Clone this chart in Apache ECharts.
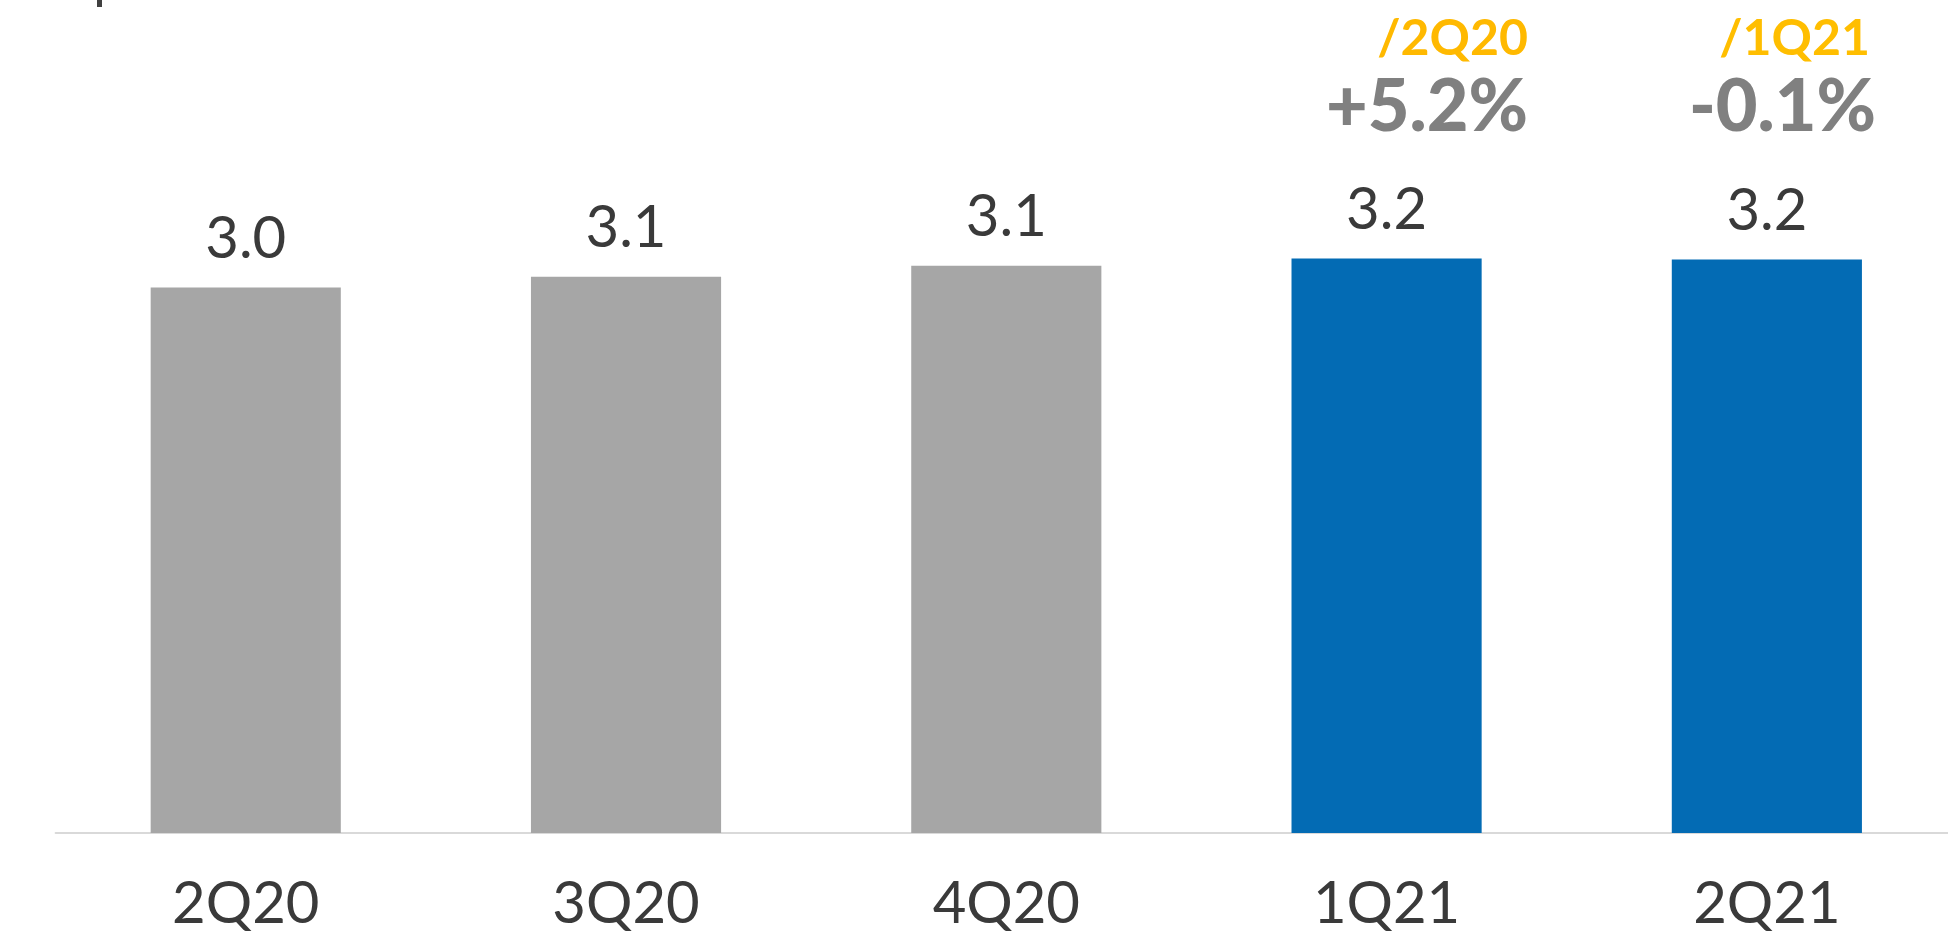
<!DOCTYPE html>
<html>
<head>
<meta charset="utf-8">
<script src="https://cdn.jsdelivr.net/npm/echarts@6/dist/echarts.min.js"></script>
<style>
html,body{margin:0;padding:0;background:#fff;overflow:hidden;width:1948px;height:933px;}
#chart{width:1957px;height:933px;}
</style>
</head>
<body>
<div id="chart"></div>
<script>
const categories = ['2Q20', '3Q20', '4Q20', '1Q21', '2Q21'];
const values = [3.00, 3.06, 3.12, 3.16, 3.155];
const valueLabels = ['3.0', '3.1', '3.1', '3.2', '3.2'];
const barColors = ['#A6A6A6', '#A6A6A6', '#A6A6A6', '#036BB4', '#036BB4'];
const compareLabels = ['/2Q20', '/1Q21'];
const changeLabels = ['+5.2%', '-0.1%'];

const chart = echarts.init(document.getElementById('chart'));
const FONT = 'Lato, "Noto Sans", sans-serif';

chart.setOption({
  animation: false,
  backgroundColor: '#ffffff',
  grid: { left: 55.6, right: 0, top: 105.8, bottom: 100, containLabel: false },
  xAxis: {
    type: 'category',
    data: categories,
    axisLine: { show: true, lineStyle: { color: '#D9D9D9', width: 2 } },
    axisTick: { show: false },
    axisLabel: { color: '#3A3A3A', fontFamily: FONT, fontSize: 58, margin: 42 }
  },
  yAxis: {
    type: 'value', min: 0, max: 4, interval: 1,
    show: false,
    splitLine: { show: false }
  },
  series: [{
    type: 'bar',
    barWidth: '50%',
    data: values.map((v, i) => ({ value: v, itemStyle: { color: barColors[i] } })),
    label: {
      show: true,
      position: 'top',
      distance: 19,
      color: '#3A3A3A',
      fontFamily: FONT,
      fontSize: 58,
      formatter: p => valueLabels[p.dataIndex]
    }
  }],
  graphic: [
    { type: 'rect', shape: { x: 97, y: 0, width: 5, height: 7 }, style: { fill: '#404040' } },
    { type: 'text', right: 429, top: 14, style: { text: compareLabels[0], fill: '#FFB900', font: 'bold 50px ' + FONT } },
    { type: 'text', right: 429, top: 72, style: { text: changeLabels[0], fill: '#808080', font: '900 72px ' + FONT } },
    { type: 'text', right: 87, top: 14, style: { text: compareLabels[1], fill: '#FFBE00', font: 'bold 50px ' + FONT } },
    { type: 'text', right: 81, top: 72, style: { text: changeLabels[1], fill: '#808080', font: '900 72px ' + FONT } }
  ]
});
</script>
</body>
</html>
